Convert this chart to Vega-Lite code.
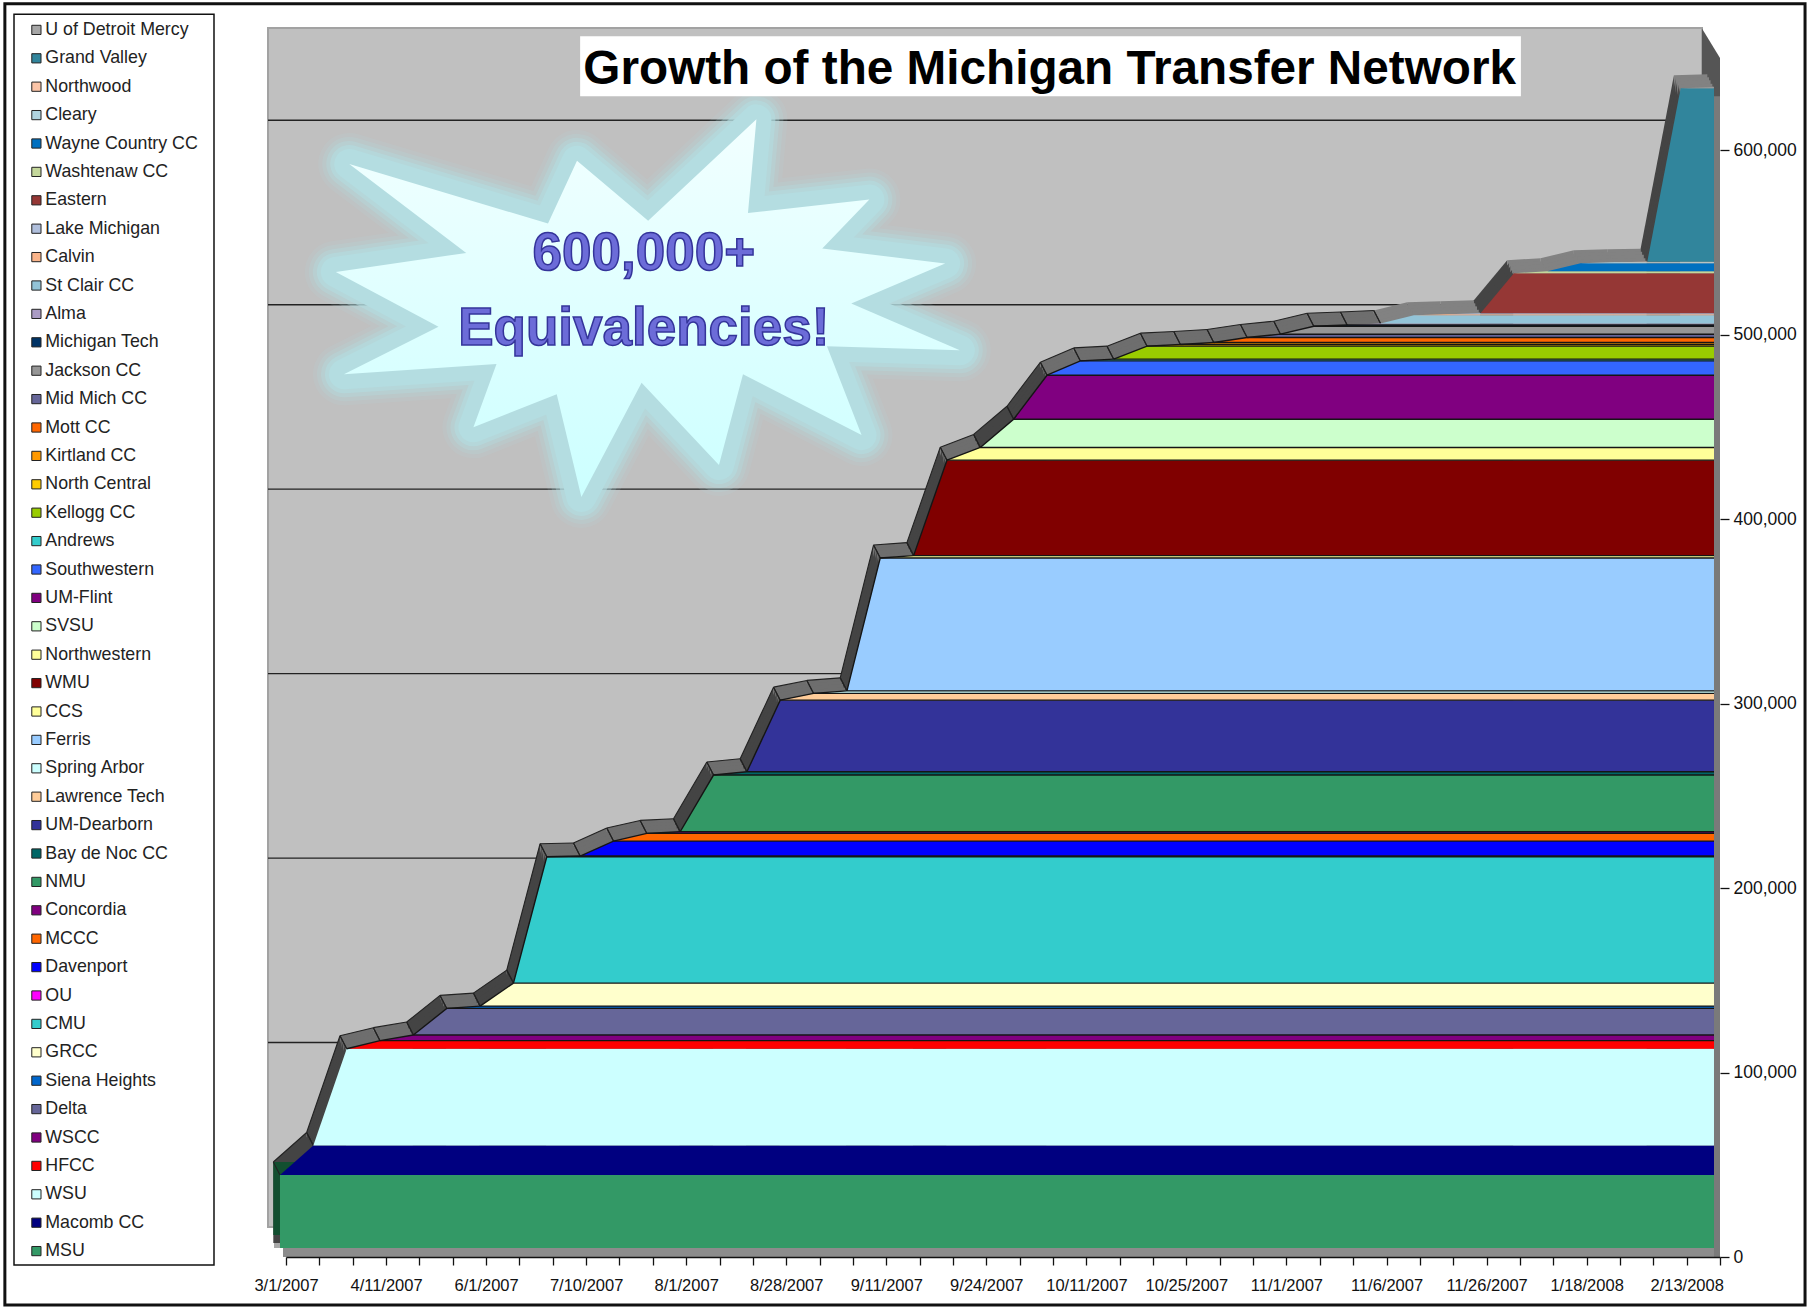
{"$schema":"https://vega.github.io/schema/vega-lite/v6.json","width":1434,"height":1199,"autosize":{"type":"none"},"padding":{"left":286,"top":58,"right":87,"bottom":50},"background":"white","view":{"stroke":null},
"datasets":{
"wall":[{"i":0,"hi":650000,"lo":0},{"i":43,"hi":650000,"lo":0}],
"frame":[{"i":-8.43,"i2":45.55,"hi":679400,"lo":-26000}],
"legendbox":[{"i":-8.156,"i2":-2.159,"hi":673700,"lo":-4300}],
"titlebox":[{"i":8.82,"i2":37.03,"hi":661800,"lo":629300}],
"titletext":[{"i":22.9,"hi":643600,"label":"Growth of the Michigan Transfer Network"}],
"rightwall":[{"i":42.46,"hi":666000,"lo":0},{"i":43,"hi":650000,"lo":0}],
"rightedge":[{"i":42.82,"hi":629300,"lo":0},{"i":43,"hi":629300,"lo":0}],
"grid":[{"i":0,"i2":43,"hi":100000},{"i":0,"i2":43,"hi":200000},{"i":0,"i2":43,"hi":300000},{"i":0,"i2":43,"hi":400000},{"i":0,"i2":43,"hi":500000},{"i":0,"i2":43,"hi":600000}],
"floor":[{"i":0,"hi":0,"lo":0},{"i":43,"hi":0,"lo":0}],
"side":[{"i":0,"hi":39570,"lo":0},{"i":1,"hi":39570,"lo":0}],
"star":[{"i":10.85,"hi":514400}],
"callout":[{"i":10.73,"hi":544000,"label":"600,000+"},{"i":10.73,"hi":503000,"label":"Equivalencies!"}],
"segs":[
{"g":0,"i":0,"hi":39570,"f":"steep"},{"g":0,"i":1,"hi":55550,"f":"steep"},
{"g":1,"i":1,"hi":55550,"f":"steep"},{"g":1,"i":2,"hi":108000,"f":"steep"},
{"g":2,"i":2,"hi":108000,"f":"gentle"},{"g":2,"i":3,"hi":112400,"f":"gentle"},
{"g":3,"i":3,"hi":112400,"f":"gentle"},{"g":3,"i":4,"hi":115450,"f":"gentle"},
{"g":4,"i":4,"hi":115450,"f":"steep"},{"g":4,"i":5,"hi":129900,"f":"steep"},
{"g":5,"i":5,"hi":129900,"f":"gentle"},{"g":5,"i":6,"hi":131150,"f":"gentle"},
{"g":6,"i":6,"hi":131150,"f":"steep"},{"g":6,"i":7,"hi":143600,"f":"steep"},
{"g":7,"i":7,"hi":143600,"f":"steep"},{"g":7,"i":8,"hi":212100,"f":"steep"},
{"g":8,"i":8,"hi":212100,"f":"gentle"},{"g":8,"i":9,"hi":212500,"f":"gentle"},
{"g":9,"i":9,"hi":212500,"f":"gentle"},{"g":9,"i":10,"hi":220600,"f":"gentle"},
{"g":10,"i":10,"hi":220600,"f":"gentle"},{"g":10,"i":11,"hi":224750,"f":"gentle"},
{"g":11,"i":11,"hi":224750,"f":"gentle"},{"g":11,"i":12,"hi":225650,"f":"gentle"},
{"g":12,"i":12,"hi":225650,"f":"steep"},{"g":12,"i":13,"hi":256400,"f":"steep"},
{"g":13,"i":13,"hi":256400,"f":"gentle"},{"g":13,"i":14,"hi":258150,"f":"gentle"},
{"g":14,"i":14,"hi":258150,"f":"steep"},{"g":14,"i":15,"hi":297000,"f":"steep"},
{"g":15,"i":15,"hi":297000,"f":"gentle"},{"g":15,"i":16,"hi":300650,"f":"gentle"},
{"g":16,"i":16,"hi":300650,"f":"gentle"},{"g":16,"i":17,"hi":302050,"f":"gentle"},
{"g":17,"i":17,"hi":302050,"f":"steep"},{"g":17,"i":18,"hi":374100,"f":"steep"},
{"g":18,"i":18,"hi":374100,"f":"gentle"},{"g":18,"i":19,"hi":375350,"f":"gentle"},
{"g":19,"i":19,"hi":375350,"f":"steep"},{"g":19,"i":20,"hi":427100,"f":"steep"},
{"g":20,"i":20,"hi":427100,"f":"gentle"},{"g":20,"i":21,"hi":434000,"f":"gentle"},
{"g":21,"i":21,"hi":434000,"f":"steep"},{"g":21,"i":22,"hi":449300,"f":"steep"},
{"g":22,"i":22,"hi":449300,"f":"steep"},{"g":22,"i":23,"hi":473150,"f":"steep"},
{"g":23,"i":23,"hi":473150,"f":"gentle"},{"g":23,"i":24,"hi":480900,"f":"gentle"},
{"g":24,"i":24,"hi":480900,"f":"gentle"},{"g":24,"i":25,"hi":481850,"f":"gentle"},
{"g":25,"i":25,"hi":481850,"f":"gentle"},{"g":25,"i":26,"hi":488900,"f":"gentle"},
{"g":26,"i":26,"hi":488900,"f":"gentle"},{"g":26,"i":27,"hi":489800,"f":"gentle"},
{"g":27,"i":27,"hi":489800,"f":"gentle"},{"g":27,"i":28,"hi":490900,"f":"gentle"},
{"g":28,"i":28,"hi":490900,"f":"gentle"},{"g":28,"i":29,"hi":493600,"f":"gentle"},
{"g":29,"i":29,"hi":493600,"f":"gentle"},{"g":29,"i":30,"hi":495400,"f":"gentle"},
{"g":30,"i":30,"hi":495400,"f":"gentle"},{"g":30,"i":31,"hi":499700,"f":"gentle"},
{"g":31,"i":31,"hi":499700,"f":"gentle"},{"g":31,"i":32,"hi":500400,"f":"gentle"},
{"g":32,"i":32,"hi":500400,"f":"gentle"},{"g":32,"i":33,"hi":501200,"f":"gentle"},
{"g":33,"i":33,"hi":501200,"f":"pale"},{"g":33,"i":34,"hi":505700,"f":"pale"},
{"g":34,"i":34,"hi":505700,"f":"pale"},{"g":34,"i":35,"hi":506200,"f":"pale"},
{"g":35,"i":35,"hi":506200,"f":"pale"},{"g":35,"i":36,"hi":506800,"f":"pale"},
{"g":36,"i":36,"hi":506800,"f":"steep"},{"g":36,"i":37,"hi":528450,"f":"steep"},
{"g":37,"i":37,"hi":528450,"f":"pale"},{"g":37,"i":38,"hi":529500,"f":"pale"},
{"g":38,"i":38,"hi":529500,"f":"pale"},{"g":38,"i":39,"hi":533900,"f":"pale"},
{"g":39,"i":39,"hi":533900,"f":"pale"},{"g":39,"i":40,"hi":534400,"f":"pale"},
{"g":40,"i":40,"hi":534400,"f":"pale"},{"g":40,"i":41,"hi":534700,"f":"pale"},
{"g":41,"i":41,"hi":534700,"f":"steep"},{"g":41,"i":42,"hi":628700,"f":"steep"},
{"g":42,"i":42,"hi":628700,"f":"pale"},{"g":42,"i":43,"hi":629300,"f":"pale"}],
"bands":[
{"s":"MSU","i":0,"lo":0,"hi":39570},{"s":"MSU","i":43,"lo":0,"hi":39570},
{"s":"Macomb CC","i":0,"lo":39570,"hi":39570},{"s":"Macomb CC","i":1,"lo":39570,"hi":55550},{"s":"Macomb CC","i":43,"lo":39570,"hi":55550},
{"s":"WSU","i":1,"lo":55550,"hi":55550},{"s":"WSU","i":2,"lo":55550,"hi":108000},{"s":"WSU","i":43,"lo":55550,"hi":108000},
{"s":"HFCC","i":2,"lo":108000,"hi":108000},{"s":"HFCC","i":3,"lo":108000,"hi":112400},{"s":"HFCC","i":43,"lo":108000,"hi":112400},
{"s":"WSCC","i":3,"lo":112400,"hi":112400},{"s":"WSCC","i":4,"lo":112400,"hi":115450},{"s":"WSCC","i":43,"lo":112400,"hi":115450},
{"s":"Delta","i":4,"lo":115450,"hi":115450},{"s":"Delta","i":5,"lo":115450,"hi":129900},{"s":"Delta","i":43,"lo":115450,"hi":129900},
{"s":"Siena Heights","i":5,"lo":129900,"hi":129900},{"s":"Siena Heights","i":6,"lo":129900,"hi":131150},{"s":"Siena Heights","i":43,"lo":129900,"hi":131150},
{"s":"GRCC","i":6,"lo":131150,"hi":131150},{"s":"GRCC","i":7,"lo":131150,"hi":143600},{"s":"GRCC","i":43,"lo":131150,"hi":143600},
{"s":"CMU","i":7,"lo":143600,"hi":143600},{"s":"CMU","i":8,"lo":143600,"hi":212100},{"s":"CMU","i":43,"lo":143600,"hi":212100},
{"s":"OU","i":8,"lo":212100,"hi":212100},{"s":"OU","i":9,"lo":212100,"hi":212500},{"s":"OU","i":43,"lo":212100,"hi":212500},
{"s":"Davenport","i":9,"lo":212500,"hi":212500},{"s":"Davenport","i":10,"lo":212500,"hi":220600},{"s":"Davenport","i":43,"lo":212500,"hi":220600},
{"s":"MCCC","i":10,"lo":220600,"hi":220600},{"s":"MCCC","i":11,"lo":220600,"hi":224750},{"s":"MCCC","i":43,"lo":220600,"hi":224750},
{"s":"Concordia","i":11,"lo":224750,"hi":224750},{"s":"Concordia","i":12,"lo":224750,"hi":225650},{"s":"Concordia","i":43,"lo":224750,"hi":225650},
{"s":"NMU","i":12,"lo":225650,"hi":225650},{"s":"NMU","i":13,"lo":225650,"hi":256400},{"s":"NMU","i":43,"lo":225650,"hi":256400},
{"s":"Bay de Noc CC","i":13,"lo":256400,"hi":256400},{"s":"Bay de Noc CC","i":14,"lo":256400,"hi":258150},{"s":"Bay de Noc CC","i":43,"lo":256400,"hi":258150},
{"s":"UM-Dearborn","i":14,"lo":258150,"hi":258150},{"s":"UM-Dearborn","i":15,"lo":258150,"hi":297000},{"s":"UM-Dearborn","i":43,"lo":258150,"hi":297000},
{"s":"Lawrence Tech","i":15,"lo":297000,"hi":297000},{"s":"Lawrence Tech","i":16,"lo":297000,"hi":300650},{"s":"Lawrence Tech","i":43,"lo":297000,"hi":300650},
{"s":"Spring Arbor","i":16,"lo":300650,"hi":300650},{"s":"Spring Arbor","i":17,"lo":300650,"hi":302050},{"s":"Spring Arbor","i":43,"lo":300650,"hi":302050},
{"s":"Ferris","i":17,"lo":302050,"hi":302050},{"s":"Ferris","i":18,"lo":302050,"hi":374100},{"s":"Ferris","i":43,"lo":302050,"hi":374100},
{"s":"CCS","i":18,"lo":374100,"hi":374100},{"s":"CCS","i":19,"lo":374100,"hi":375350},{"s":"CCS","i":43,"lo":374100,"hi":375350},
{"s":"WMU","i":19,"lo":375350,"hi":375350},{"s":"WMU","i":20,"lo":375350,"hi":427100},{"s":"WMU","i":43,"lo":375350,"hi":427100},
{"s":"Northwestern","i":20,"lo":427100,"hi":427100},{"s":"Northwestern","i":21,"lo":427100,"hi":434000},{"s":"Northwestern","i":43,"lo":427100,"hi":434000},
{"s":"SVSU","i":21,"lo":434000,"hi":434000},{"s":"SVSU","i":22,"lo":434000,"hi":449300},{"s":"SVSU","i":43,"lo":434000,"hi":449300},
{"s":"UM-Flint","i":22,"lo":449300,"hi":449300},{"s":"UM-Flint","i":23,"lo":449300,"hi":473150},{"s":"UM-Flint","i":43,"lo":449300,"hi":473150},
{"s":"Southwestern","i":23,"lo":473150,"hi":473150},{"s":"Southwestern","i":24,"lo":473150,"hi":480900},{"s":"Southwestern","i":43,"lo":473150,"hi":480900},
{"s":"Andrews","i":24,"lo":480900,"hi":480900},{"s":"Andrews","i":25,"lo":480900,"hi":481850},{"s":"Andrews","i":43,"lo":480900,"hi":481850},
{"s":"Kellogg CC","i":25,"lo":481850,"hi":481850},{"s":"Kellogg CC","i":26,"lo":481850,"hi":488900},{"s":"Kellogg CC","i":43,"lo":481850,"hi":488900},
{"s":"North Central","i":26,"lo":488900,"hi":488900},{"s":"North Central","i":27,"lo":488900,"hi":489800},{"s":"North Central","i":43,"lo":488900,"hi":489800},
{"s":"Kirtland CC","i":27,"lo":489800,"hi":489800},{"s":"Kirtland CC","i":28,"lo":489800,"hi":490900},{"s":"Kirtland CC","i":43,"lo":489800,"hi":490900},
{"s":"Mott CC","i":28,"lo":490900,"hi":490900},{"s":"Mott CC","i":29,"lo":490900,"hi":493600},{"s":"Mott CC","i":43,"lo":490900,"hi":493600},
{"s":"Mid Mich CC","i":29,"lo":493600,"hi":493600},{"s":"Mid Mich CC","i":30,"lo":493600,"hi":495400},{"s":"Mid Mich CC","i":43,"lo":493600,"hi":495400},
{"s":"Jackson CC","i":30,"lo":495400,"hi":495400},{"s":"Jackson CC","i":31,"lo":495400,"hi":499700},{"s":"Jackson CC","i":43,"lo":495400,"hi":499700},
{"s":"Michigan Tech","i":31,"lo":499700,"hi":499700},{"s":"Michigan Tech","i":32,"lo":499700,"hi":500400},{"s":"Michigan Tech","i":43,"lo":499700,"hi":500400},
{"s":"Alma","i":32,"lo":500400,"hi":500400},{"s":"Alma","i":33,"lo":500400,"hi":501200},{"s":"Alma","i":43,"lo":500400,"hi":501200},
{"s":"St Clair CC","i":33,"lo":501200,"hi":501200},{"s":"St Clair CC","i":34,"lo":501200,"hi":505700},{"s":"St Clair CC","i":43,"lo":501200,"hi":505700},
{"s":"Calvin","i":34,"lo":505700,"hi":505700},{"s":"Calvin","i":35,"lo":505700,"hi":506200},{"s":"Calvin","i":43,"lo":505700,"hi":506200},
{"s":"Lake Michigan","i":35,"lo":506200,"hi":506200},{"s":"Lake Michigan","i":36,"lo":506200,"hi":506800},{"s":"Lake Michigan","i":43,"lo":506200,"hi":506800},
{"s":"Eastern","i":36,"lo":506800,"hi":506800},{"s":"Eastern","i":37,"lo":506800,"hi":528450},{"s":"Eastern","i":43,"lo":506800,"hi":528450},
{"s":"Washtenaw CC","i":37,"lo":528450,"hi":528450},{"s":"Washtenaw CC","i":38,"lo":528450,"hi":529500},{"s":"Washtenaw CC","i":43,"lo":528450,"hi":529500},
{"s":"Wayne Country CC","i":38,"lo":529500,"hi":529500},{"s":"Wayne Country CC","i":39,"lo":529500,"hi":533900},{"s":"Wayne Country CC","i":43,"lo":529500,"hi":533900},
{"s":"Cleary","i":39,"lo":533900,"hi":533900},{"s":"Cleary","i":40,"lo":533900,"hi":534400},{"s":"Cleary","i":43,"lo":533900,"hi":534400},
{"s":"Northwood","i":40,"lo":534400,"hi":534400},{"s":"Northwood","i":41,"lo":534400,"hi":534700},{"s":"Northwood","i":43,"lo":534400,"hi":534700},
{"s":"Grand Valley","i":41,"lo":534700,"hi":534700},{"s":"Grand Valley","i":42,"lo":534700,"hi":628700},{"s":"Grand Valley","i":43,"lo":534700,"hi":628700},
{"s":"U of Detroit Mercy","i":42,"lo":628700,"hi":628700},{"s":"U of Detroit Mercy","i":43,"lo":628700,"hi":629300}]
},
"encoding":{
"x":{"field":"i","type":"quantitative","scale":{"domain":[0,43],"nice":false,"zero":false},"axis":{"zindex":1,"title":null,"grid":false,"domain":true,"domainColor":"#111","domainWidth":1.5,"values":[0,1,2,3,4,5,6,7,8,9,10,11,12,13,14,15,16,17,18,19,20,21,22,23,24,25,26,27,28,29,30,31,32,33,34,35,36,37,38,39,40,41,42,43],"labelExpr":"datum.value % 3 === 0 ? ['3/1/2007','4/11/2007','6/1/2007','7/10/2007','8/1/2007','8/28/2007','9/11/2007','9/24/2007','10/11/2007','10/25/2007','11/1/2007','11/6/2007','11/26/2007','1/18/2008','2/13/2008'][datum.value/3] : ''","labelOverlap":false,"labelBound":false,"labelFlush":false,"labelAngle":0,"labelFont":"Liberation Sans","labelFontSize":16.5,"labelColor":"#111","labelPadding":12,"tickColor":"#111","tickSize":8,"tickWidth":1.3}},
"y":{"field":"hi","type":"quantitative","scale":{"domain":[0,650000],"nice":false},"axis":{"zindex":1,"title":null,"orient":"right","grid":false,"domain":false,"values":[0,100000,200000,300000,400000,500000,600000],"labelExpr":"format(datum.value, ',')","labelFont":"Liberation Sans","labelFontSize":17.5,"labelColor":"#111","labelPadding":4,"tickColor":"#111","tickSize":9,"tickWidth":1.3}}
},
"layer":[
{"data":{"name":"frame"},"mark":{"type":"rect","fill":"white","stroke":"#111","strokeWidth":3},"encoding":{"x2":{"field":"i2"},"y2":{"field":"lo"}}},
{"data":{"name":"legendbox"},"mark":{"type":"rect","fill":"white","stroke":"#111","strokeWidth":1.5},"encoding":{"x2":{"field":"i2"},"y2":{"field":"lo"}}},
{"data":{"name":"wall"},"mark":{"type":"area","color":"#c0c0c0","stroke":"#a2a2a2","strokeWidth":2,"xOffset":-18,"yOffset":-30,"y2Offset":-30},"encoding":{"y2":{"field":"lo"}}},
{"data":{"name":"grid"},"mark":{"type":"rule","color":"#222","strokeWidth":1.4,"xOffset":-18,"x2Offset":-18,"yOffset":-30},"encoding":{"x2":{"field":"i2"}}},
{"data":{"name":"rightwall"},"mark":{"type":"area","color":"#555555"},"encoding":{"y2":{"field":"lo"}}},
{"data":{"name":"floor"},"mark":{"type":"area","color":"#a8a8a8","xOffset":-12,"yOffset":-30,"y2Offset":-9},"encoding":{"y2":{"field":"lo"}}},
{"data":{"name":"floor"},"mark":{"type":"area","color":"#8c8c8c","xOffset":-3,"yOffset":-9,"y2Offset":0},"encoding":{"y2":{"field":"lo"}}},
{"data":{"name":"segs"},"mark":{"type":"area","xOffset":-12.7,"yOffset":-22,"y2Offset":-14},"encoding":{"y2":{"datum":0},"detail":{"field":"g"},"fill":{"field":"f","type":"nominal","legend":null,"scale":{"domain":["steep","gentle","pale"],"range":["#444444","#6e6e6e","#828282"]}}}},
{"data":{"name":"segs"},"mark":{"type":"area","xOffset":-11,"yOffset":-19,"y2Offset":-14},"encoding":{"y2":{"datum":0},"detail":{"field":"g"},"fill":{"field":"f","type":"nominal","legend":null}}},
{"data":{"name":"segs"},"mark":{"type":"area","xOffset":-9.4,"yOffset":-16,"y2Offset":-14},"encoding":{"y2":{"datum":0},"detail":{"field":"g"},"fill":{"field":"f","type":"nominal","legend":null}}},
{"data":{"name":"segs"},"mark":{"type":"area","xOffset":-7.7,"yOffset":-12.5,"y2Offset":-14},"encoding":{"y2":{"datum":0},"detail":{"field":"g"},"fill":{"field":"f","type":"nominal","legend":null}}},
{"data":{"name":"segs"},"mark":{"type":"area","xOffset":-6.5,"yOffset":-10,"y2Offset":-14},"encoding":{"y2":{"datum":0},"detail":{"field":"g"},"fill":{"field":"f","type":"nominal","legend":null}}},
{"data":{"name":"side"},"mark":{"type":"area","color":"#124f30","xOffset":-12.7,"yOffset":-22,"y2Offset":-22},"encoding":{"y2":{"field":"lo"}}},
{"data":{"name":"segs"},"transform":[{"filter":"datum.i <= 33"}],"mark":{"type":"rule","color":"#222","strokeWidth":1.1,"xOffset":-12.7,"yOffset":-22,"x2Offset":-6,"y2Offset":-9},"encoding":{"x2":{"field":"i"},"y2":{"field":"hi"}}},
{"data":{"name":"segs"},"transform":[{"filter":"datum.i <= 33"}],"mark":{"type":"line","color":"#222","strokeWidth":1.1,"xOffset":-12.7,"yOffset":-22},"encoding":{"detail":{"field":"g"}}},
{"data":{"name":"bands"},"mark":{"type":"area","xOffset":-6,"yOffset":-9,"y2Offset":-9},"encoding":{"y2":{"field":"lo"},"color":{"field":"s","type":"nominal","title":null,"scale":{
"domain":["U of Detroit Mercy","Grand Valley","Northwood","Cleary","Wayne Country CC","Washtenaw CC","Eastern","Lake Michigan","Calvin","St Clair CC","Alma","Michigan Tech","Jackson CC","Mid Mich CC","Mott CC","Kirtland CC","North Central","Kellogg CC","Andrews","Southwestern","UM-Flint","SVSU","Northwestern","WMU","CCS","Ferris","Spring Arbor","Lawrence Tech","UM-Dearborn","Bay de Noc CC","NMU","Concordia","MCCC","Davenport","OU","CMU","GRCC","Siena Heights","Delta","WSCC","HFCC","WSU","Macomb CC","MSU"],
"range":["#a6a6a6","#31859c","#fcc5a8","#b0d4e0","#0070c0","#c4d79b","#953735","#b0bfdc","#fab48a","#93c4d8","#aa9bc4","#003366","#969696","#666699","#ff6600","#ff9900","#ffcc00","#99cc00","#33cccc","#3366ff","#800080","#ccffcc","#ffff99","#800000","#ffff99","#99ccff","#ccffff","#ffcc99","#333399","#006666","#339966","#800080","#ff6600","#0000ff","#ff00ff","#33cccc","#ffffcc","#0066cc","#666699","#800080","#ff0000","#ccffff","#000080","#339966"]},
"legend":{"orient":"none","legendX":-272,"legendY":-44,"title":null,"symbolLimit":60,"symbolType":"square","symbolSize":85,"symbolStrokeColor":"#222","symbolStrokeWidth":1,"symbolOffset":6.5,"labelFont":"Liberation Sans","labelFontSize":17.8,"labelColor":"#222","labelLimit":300,"labelOffset":0,"rowPadding":9.4,"padding":7}}}},
{"data":{"name":"bands"},"transform":[{"filter":{"field":"s","oneOf":["HFCC","WSCC","Delta","Siena Heights","GRCC","CMU","OU","Davenport","MCCC","Concordia","NMU","Bay de Noc CC","UM-Dearborn","Lawrence Tech","Spring Arbor","Ferris","CCS","WMU","Northwestern","SVSU","UM-Flint","Southwestern","Andrews","Kellogg CC","North Central","Kirtland CC","Mott CC","Mid Mich CC","Jackson CC","Michigan Tech"]}}],"mark":{"type":"line","color":"#151515","strokeWidth":1.4,"xOffset":-6,"yOffset":-9},"encoding":{"detail":{"field":"s"}}},
{"data":{"name":"rightedge"},"mark":{"type":"area","color":"#7a7a7a"},"encoding":{"y2":{"field":"lo"}}},
{"data":{"name":"star"},"mark":{"type":"point","filled":false,"opacity":0.12,"stroke":"#b4dde1","strokeWidth":62,"strokeJoin":"round","size":389376,"shape":"M.348,-.605L.321,-.305L.71,-.348L.559,-.191L.953,-.143L.652,-.015L1,.135L.574,.122L.685,.407L.305,.212L.228,.503L-.02,.239L-.213,.605L-.292,.276L-.559,.382L-.485,.179L-.974,.212L-.671,.06L-1,-.116L-.582,-.177L-.957,-.462L-.32,-.271L-.227,-.472L.001,-.28Z"}},
{"data":{"name":"star"},"mark":{"type":"point","filled":false,"opacity":0.2,"stroke":"#b4dde1","strokeWidth":54,"strokeJoin":"round","size":389376,"shape":"M.348,-.605L.321,-.305L.71,-.348L.559,-.191L.953,-.143L.652,-.015L1,.135L.574,.122L.685,.407L.305,.212L.228,.503L-.02,.239L-.213,.605L-.292,.276L-.559,.382L-.485,.179L-.974,.212L-.671,.06L-1,-.116L-.582,-.177L-.957,-.462L-.32,-.271L-.227,-.472L.001,-.28Z"}},
{"data":{"name":"star"},"mark":{"type":"point","filled":false,"opacity":0.35,"stroke":"#b4dde1","strokeWidth":46,"strokeJoin":"round","size":389376,"shape":"M.348,-.605L.321,-.305L.71,-.348L.559,-.191L.953,-.143L.652,-.015L1,.135L.574,.122L.685,.407L.305,.212L.228,.503L-.02,.239L-.213,.605L-.292,.276L-.559,.382L-.485,.179L-.974,.212L-.671,.06L-1,-.116L-.582,-.177L-.957,-.462L-.32,-.271L-.227,-.472L.001,-.28Z"}},
{"data":{"name":"star"},"mark":{"type":"point","filled":false,"opacity":0.6,"stroke":"#b4dde1","strokeWidth":38,"strokeJoin":"round","size":389376,"shape":"M.348,-.605L.321,-.305L.71,-.348L.559,-.191L.953,-.143L.652,-.015L1,.135L.574,.122L.685,.407L.305,.212L.228,.503L-.02,.239L-.213,.605L-.292,.276L-.559,.382L-.485,.179L-.974,.212L-.671,.06L-1,-.116L-.582,-.177L-.957,-.462L-.32,-.271L-.227,-.472L.001,-.28Z"}},
{"data":{"name":"star"},"mark":{"type":"point","filled":false,"opacity":1,"stroke":"#b4dde1","strokeWidth":30,"strokeJoin":"round","size":389376,"shape":"M.348,-.605L.321,-.305L.71,-.348L.559,-.191L.953,-.143L.652,-.015L1,.135L.574,.122L.685,.407L.305,.212L.228,.503L-.02,.239L-.213,.605L-.292,.276L-.559,.382L-.485,.179L-.974,.212L-.671,.06L-1,-.116L-.582,-.177L-.957,-.462L-.32,-.271L-.227,-.472L.001,-.28Z"}},
{"data":{"name":"star"},"mark":{"type":"point","filled":true,"opacity":1,"strokeWidth":0,"size":389376,"color":{"gradient":"linear","x1":0,"y1":0,"x2":0,"y2":1,"stops":[{"offset":0,"color":"#f2ffff"},{"offset":1,"color":"#ccffff"}]},"shape":"M.348,-.605L.321,-.305L.71,-.348L.559,-.191L.953,-.143L.652,-.015L1,.135L.574,.122L.685,.407L.305,.212L.228,.503L-.02,.239L-.213,.605L-.292,.276L-.559,.382L-.485,.179L-.974,.212L-.671,.06L-1,-.116L-.582,-.177L-.957,-.462L-.32,-.271L-.227,-.472L.001,-.28Z"}},
{"data":{"name":"callout"},"mark":{"type":"text","font":"Liberation Sans","fontSize":53,"fontWeight":"bold","align":"center","baseline":"middle","fill":"#6c6cd8","stroke":"#34349a","strokeWidth":1.5},"encoding":{"text":{"field":"label"}}},
{"data":{"name":"titlebox"},"mark":{"type":"rect","fill":"white"},"encoding":{"x2":{"field":"i2"},"y2":{"field":"lo"}}},
{"data":{"name":"titletext"},"mark":{"type":"text","font":"Liberation Sans","fontSize":47.7,"fontWeight":"bold","color":"#000","align":"center","baseline":"middle"},"encoding":{"text":{"field":"label"}}}
]}
